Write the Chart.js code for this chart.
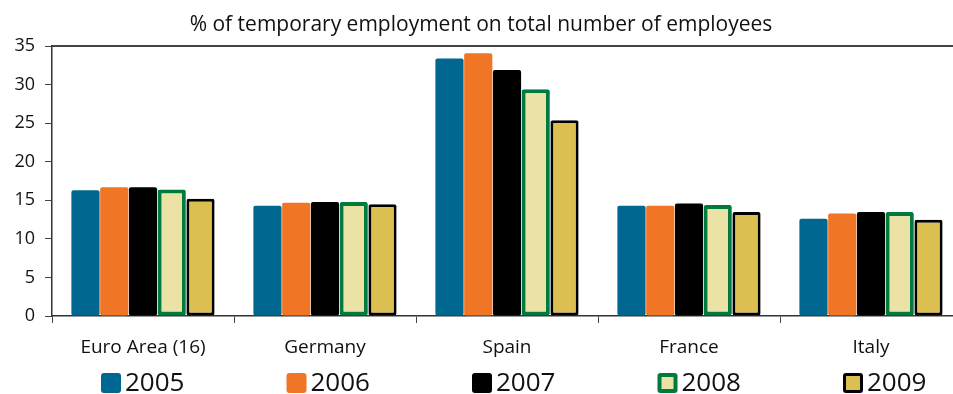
<!DOCTYPE html>
<html>
<head>
<meta charset="utf-8">
<script src="https://cdn.jsdelivr.net/npm/chart.js@4/dist/chart.umd.min.js"></script>
<style>
  html, body { margin: 0; padding: 0; background: #fff; overflow: hidden; width: 953px; height: 394px; }
  #wrap { width: 970px; height: 394px; position: relative; }
</style>
</head>
<body>
<div id="wrap"><canvas id="c"></canvas></div>
<script>
const categories = ['Euro Area (16)', 'Germany', 'Spain', 'France', 'Italy'];
const years = ['2005', '2006', '2007', '2008', '2009'];
const v2005 = [16.3, 14.3, 33.4, 14.3, 12.6];
const v2006 = [16.7, 14.7, 34.1, 14.3, 13.3];
const v2007 = [16.7, 14.8, 31.9, 14.6, 13.5];
const v2008 = [16.4, 14.8, 29.4, 14.4, 13.5];
const v2009 = [15.2, 14.5, 25.4, 13.5, 12.5];
const yTicks = [0, 5, 10, 15, 20, 25, 30, 35];

const FONT = "'Open Sans', 'Noto Sans', sans-serif";
const styles = [
  { bg: '#006890', border: '#006890', bw: 0 },
  { bg: '#F07524', border: '#F07524', bw: 0 },
  { bg: '#000000', border: '#000000', bw: 0 },
  { bg: '#EBE2A6', border: '#007A3D', bw: 4 },
  { bg: '#DBBF50', border: '#000000', bw: 3 }
];
const series = [v2005, v2006, v2007, v2008, v2009];

const datasets = series.map((d, i) => ({
  label: years[i],
  data: d,
  backgroundColor: styles[i].bg,
  borderColor: styles[i].border,
  borderWidth: styles[i].bw,
  borderSkipped: false,
  borderRadius: 2,
  categoryPercentage: 0.79,
  barPercentage: 0.98
}));

const legendPlugin = {
  id: 'customLegend',
  afterDraw(chart) {
    const ctx = chart.ctx;
    const step = 185.5;
    const x0 = 101;
    const boxY = 373, box = 20;
    ctx.save();
    ctx.font = "26px " + FONT;
    ctx.textBaseline = 'middle';
    ctx.textAlign = 'left';
    years.forEach((y, i) => {
      const x = x0 + step * i;
      const s = styles[i];
      ctx.fillStyle = s.border;
      ctx.beginPath();
      ctx.roundRect(x, boxY, box, box, 3);
      ctx.fill();
      if (s.bw > 0) {
        ctx.fillStyle = s.bg;
        ctx.fillRect(x + s.bw, boxY + s.bw, box - 2 * s.bw, box - 2 * s.bw);
      }
      ctx.fillStyle = '#111';
      ctx.fillText(y, x + box + 4, boxY + box / 2 + 1);
    });
    ctx.restore();
  }
};

new Chart(document.getElementById('c'), {
  type: 'bar',
  data: { labels: categories, datasets },
  plugins: [legendPlugin],
  options: {
    responsive: true,
    maintainAspectRatio: false,
    animation: false,
    layout: { padding: { left: 0, right: 8, top: 0, bottom: 0 } },
    plugins: {
      legend: { display: false },
      tooltip: { enabled: false },
      title: {
        display: true,
        text: '% of temporary employment on total number of employees',
        color: '#111',
        font: { family: FONT, size: 21, weight: 'normal' },
        padding: { top: 12, bottom: 9 }
      }
    },
    scales: {
      x: {
        position: 'bottom',
        grid: { display: true, offset: true, drawOnChartArea: false, tickLength: 7, color: '#444', lineWidth: 1 },
        border: { display: true, color: '#333', width: 1.5 },
        ticks: { color: '#111', font: { family: FONT, size: 19 }, padding: 13 },
        afterFit(s) { s.height = 78; }
      },
      xTop: {
        position: 'top',
        display: true,
        grid: { display: false },
        border: { display: true, color: '#444', width: 2 },
        ticks: { display: false },
        afterFit(s) { s.height = 0; }
      },
      y: {
        min: 0,
        max: 35,
        afterBuildTicks(s) { s.ticks = yTicks.map(v => ({ value: v })); },
        grid: { display: true, drawOnChartArea: false, tickLength: 7, color: '#444' },
        border: { display: true, color: '#333', width: 1.5 },
        ticks: { color: '#111', font: { family: FONT, size: 18 }, padding: 10 },
        afterFit(s) { s.width = 52; }
      }
    }
  }
});
</script>
</body>
</html>
